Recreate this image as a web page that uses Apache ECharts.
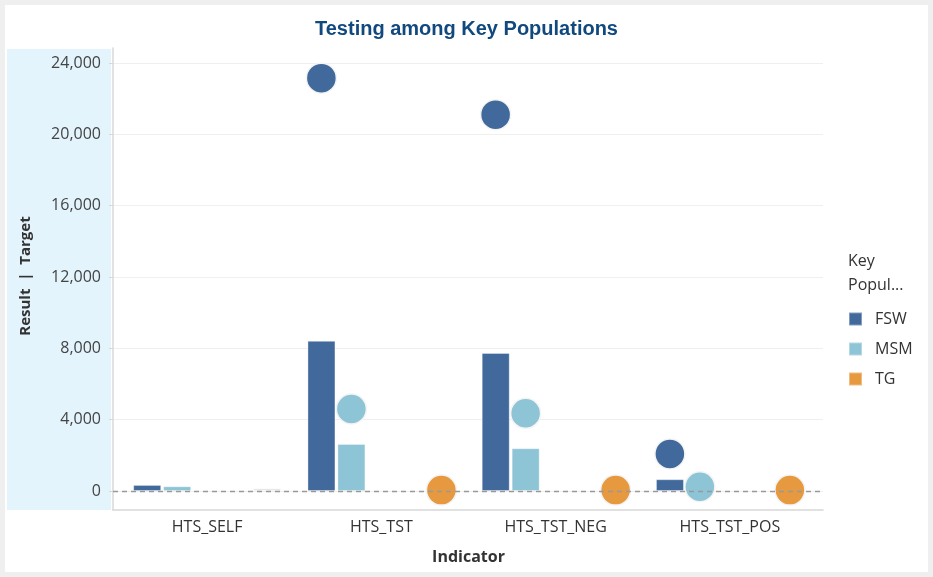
<!DOCTYPE html>
<html>
<head>
<meta charset="utf-8">
<script src="https://cdn.jsdelivr.net/npm/echarts@6/dist/echarts.min.js"></script>
<style>
  html, body { margin: 0; padding: 0; background: #efefef; }
  #chart { width: 933px; height: 577px; }
</style>
</head>
<body>
<div id="chart"></div>
<script>
const categories = ['HTS_SELF', 'HTS_TST', 'HTS_TST_NEG', 'HTS_TST_POS'];
const yTicks = [0, 4000, 8000, 12000, 16000, 20000, 24000];

// bar = result, circle = target
const fswResult = [340, 8420, 7740, 660];
const msmResult = [265, 2640, 2400, 230];
const tgResult = [150, null, null, null];
const fswTarget = [null, 23150, 21100, 2080];
const msmTarget = [null, 4600, 4360, 240];
const tgTarget = [null, 50, 50, 50];

const colors = { FSW: '#41699b', MSM: '#8dc4d6', TG: '#e7993f' };
const font = '"Open Sans", sans-serif';
const yMin = -1065;
const yMax = 24840;
const barW = 28;
const slot = 30;

const chart = echarts.init(document.getElementById('chart'));

function barSeries(name, data, color) {
  return {
    name,
    type: 'bar',
    xAxisIndex: 0,
    yAxisIndex: 0,
    barWidth: barW,
    barGap: '7%',
    data,
    itemStyle: { color, borderColor: 'rgba(255,255,255,0.35)', borderWidth: 1 },
    z: 2
  };
}

function targetSeries(name, data, color, offset) {
  return {
    name,
    type: 'scatter',
    xAxisIndex: 0,
    yAxisIndex: 0,
    symbolSize: 30,
    symbolOffset: [offset, 0],
    data,
    itemStyle: { color, opacity: 1, borderColor: '#f4f4f4', borderWidth: 1.5 },
    z: 3
  };
}

const option = {
  animation: false,
  textStyle: { fontFamily: font },
  title: {
    text: 'Testing among Key Populations',
    left: 'center',
    top: 14,
    textStyle: { fontFamily: '"Liberation Sans", Arial, sans-serif', fontSize: 20, fontWeight: 'bold', color: '#11497f' }
  },
  graphic: [
    { type: 'rect', z: -10, shape: { x: 5, y: 5, width: 923, height: 567 }, style: { fill: '#ffffff' } },
    { type: 'rect', z: -9, shape: { x: 7, y: 49, width: 104, height: 461 }, style: { fill: '#e3f4fc' } },
    {
      type: 'text', x: 26, y: 276, rotation: Math.PI / 2,
      style: { text: 'Result  |  Target', font: 'bold 15px "Open Sans", sans-serif', fill: '#333', align: 'center', verticalAlign: 'middle' }
    },
    {
      type: 'text', x: 848, y: 249,
      style: { text: 'Key\nPopul...', font: '16px "Open Sans", sans-serif', lineHeight: 24, fill: '#333' }
    }
  ],
  legend: {
    data: ['FSW', 'MSM', 'TG'],
    orient: 'vertical',
    left: 848,
    top: 311,
    padding: 0,
    icon: 'rect',
    itemWidth: 13,
    itemHeight: 13,
    itemGap: 14,
    textStyle: { fontSize: 16, color: '#333', fontFamily: font, padding: [0, 0, 0, 8] }
  },
  grid: [
    { left: 120, right: 116, top: 48, bottom: 67 },
    { left: 113, right: 110, top: 48, bottom: 67 }
  ],
  xAxis: [
    {
      type: 'category',
      gridIndex: 0,
      data: categories,
      axisLine: { show: false },
      axisTick: { show: false },
      axisLabel: { fontSize: 16, color: '#333', margin: 9 },
      name: 'Indicator',
      nameLocation: 'middle',
      nameGap: 39,
      nameTextStyle: { fontSize: 16, fontWeight: 'bold', color: '#333' }
    },
    {
      type: 'value',
      gridIndex: 1,
      min: 0,
      max: 1,
      axisLine: { show: true, onZero: false, lineStyle: { color: '#d8d8d8', width: 1.5 } },
      axisTick: { show: false },
      axisLabel: { show: false },
      splitLine: { show: false }
    }
  ],
  yAxis: [
    {
      type: 'value',
      gridIndex: 0,
      min: yMin,
      max: yMax,
      axisLine: { show: false },
      axisTick: { show: false },
      axisLabel: { show: false },
      splitLine: { show: false }
    },
    {
      type: 'value',
      gridIndex: 1,
      min: yMin,
      max: yMax,
      axisLine: { show: true, onZero: false, lineStyle: { color: '#d8d8d8', width: 1.5 } },
      axisTick: { show: true, length: 4, customValues: yTicks, lineStyle: { color: '#d8d8d8' } },
      axisLabel: {
        customValues: yTicks,
        fontSize: 16,
        color: '#444',
        margin: 12,
        formatter: v => v.toLocaleString('en-US')
      },
      splitLine: { show: true, lineStyle: { color: '#efefef', width: 1 } }
    }
  ],
  series: [
    barSeries('FSW', fswResult, colors.FSW),
    barSeries('MSM', msmResult, colors.MSM),
    barSeries('_blank1', categories.map(() => null), '#fff'),
    barSeries('_blank2', categories.map(() => null), '#fff'),
    barSeries('TG', tgResult.map(v => ({ value: v, itemStyle: { color: '#e4e4e4' } })), colors.TG),
    targetSeries('FSW', fswTarget, colors.FSW, -2 * slot),
    targetSeries('MSM', msmTarget, colors.MSM, -slot),
    targetSeries('TG', tgTarget, colors.TG, 2 * slot),
    {
      name: '_zero',
      type: 'line',
      xAxisIndex: 1,
      yAxisIndex: 1,
      data: [],
      z: 10,
      markLine: {
        silent: true,
        symbol: 'none',
        label: { show: false },
        lineStyle: { type: [5, 4], color: '#999', width: 1.3 },
        data: [{ yAxis: 0 }]
      }
    }
  ]
};

chart.setOption(option);
</script>
</body>
</html>
